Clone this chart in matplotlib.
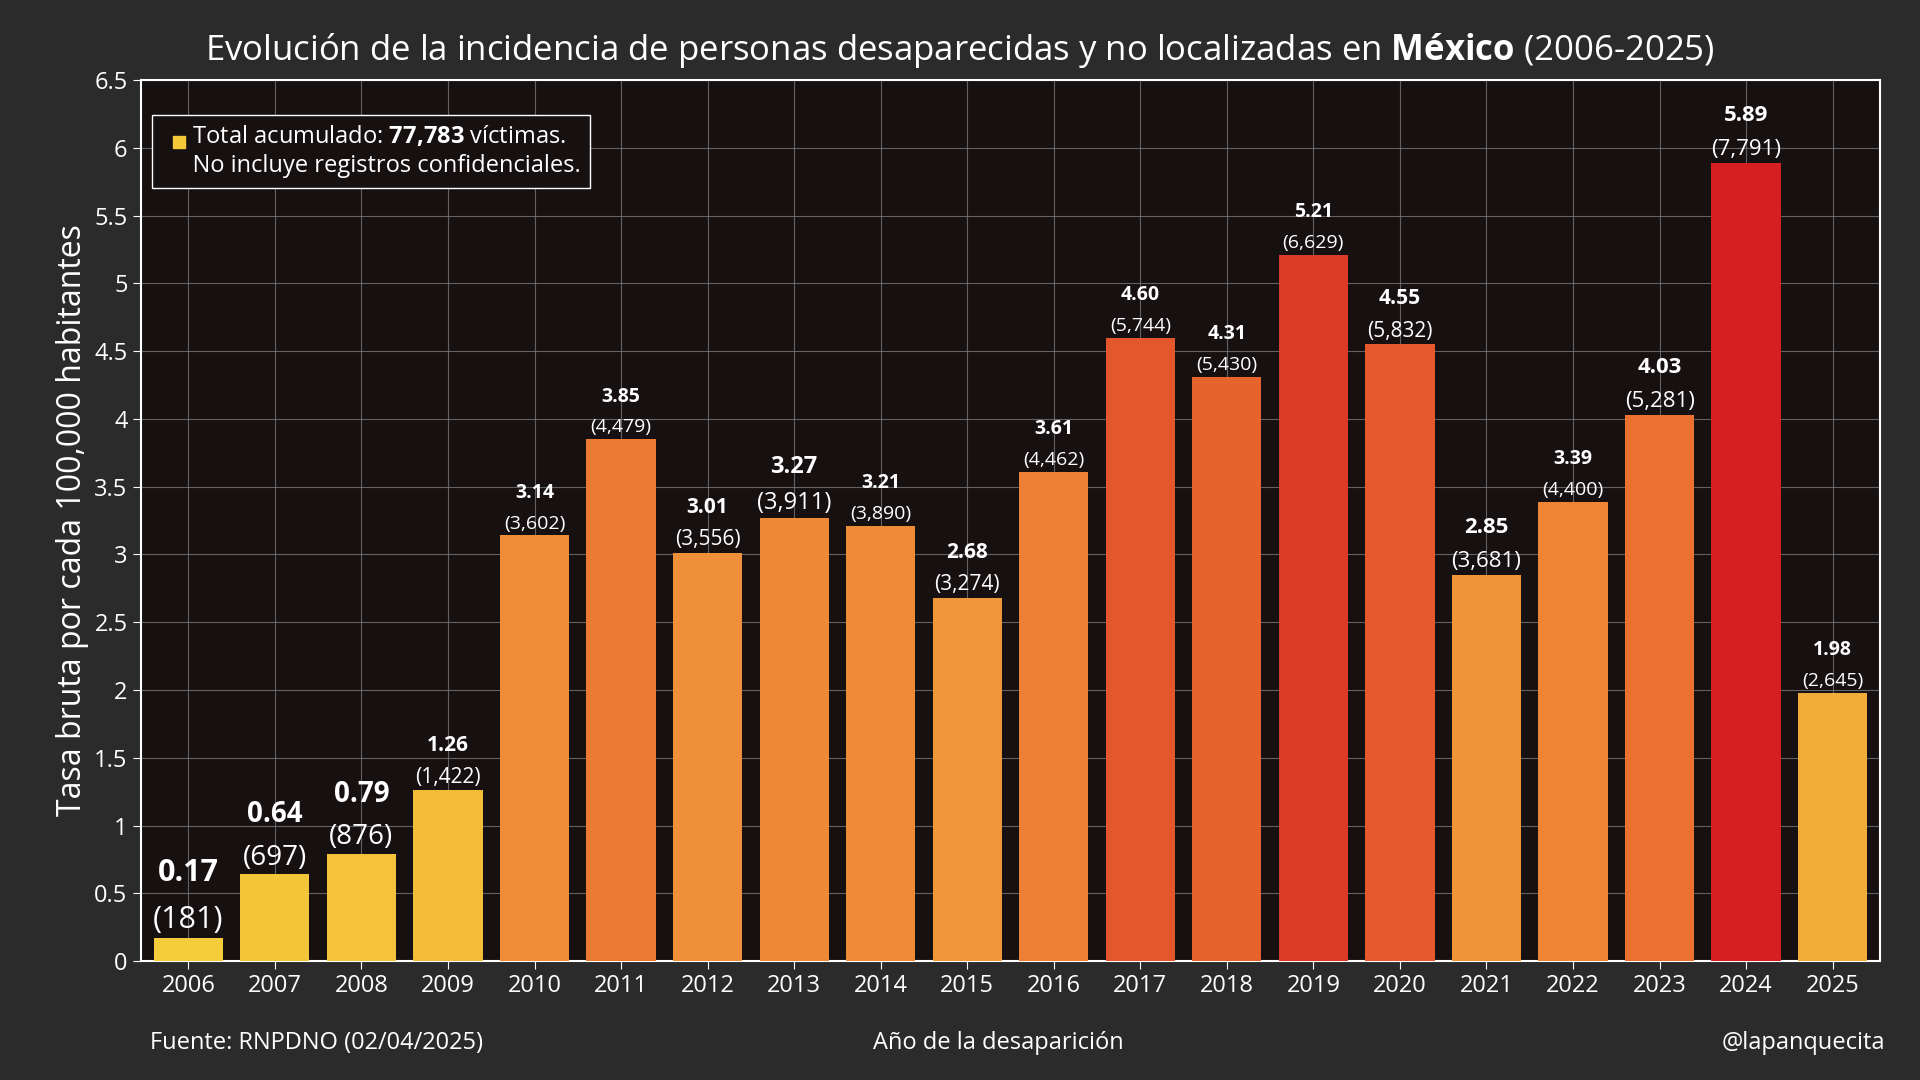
import numpy as np
import matplotlib.pyplot as plt
from matplotlib.colors import LinearSegmentedColormap, Normalize

plt.rcParams['font.family'] = ['Open Sans', 'DejaVu Sans']
plt.rcParams['mathtext.fontset'] = 'custom'
plt.rcParams['mathtext.rm'] = 'Open Sans'
plt.rcParams['mathtext.bf'] = 'Open Sans:bold'

years = [str(y) for y in range(2006, 2026)]
rates = [0.17, 0.64, 0.79, 1.26, 3.14, 3.85, 3.01, 3.27, 3.21, 2.68,
         3.61, 4.60, 4.31, 5.21, 4.55, 2.85, 3.39, 4.03, 5.89, 1.98]
counts = [181, 697, 876, 1422, 3602, 4479, 3556, 3911, 3890, 3274,
          4462, 5744, 5430, 6629, 5832, 3681, 4400, 5281, 7791, 2645]
label_sizes = [22, 20, 20, 15, 14, 14, 15, 17, 14, 15,
               14, 14, 14, 14, 15, 16, 14, 16, 16, 14]

fig = plt.figure(figsize=[19.2, 10.8], dpi=100)
fig.patch.set_facecolor('#2b2b2b')
ax = fig.add_axes([0.0733, 0.110, 0.906, 0.816])
ax.set_facecolor('#161011')

cmap = LinearSegmentedColormap.from_list(
    'yr', [(0, '#f5d03a'), (0.3, '#f2b237'), (0.5, '#f0913a'), (0.65, '#ec7a32'),
           (0.8, '#e3512b'), (1, '#d61f20')])
norm = Normalize(0, 5.9)
x = np.arange(len(years))
ax.bar(x, rates, width=0.8, color=cmap(norm(np.array(rates))), zorder=3)

for i in range(len(years)):
    s = label_sizes[i]
    ax.text(x[i], rates[i] + 0.02, '(' + format(counts[i], ',') + ')', ha='center', va='bottom',
            color='white', fontsize=s, zorder=4)
    ax.text(x[i], rates[i] + 0.02 + s * 0.0158, format(rates[i], '.2f'), ha='center', va='bottom',
            color='white', fontsize=s, fontweight='bold', zorder=4)

ax.set_xlim(-0.55, len(years) - 0.45)
ax.set_ylim(0, 6.5)
ax.set_yticks(np.arange(0, 6.51, 0.5))
ax.set_yticklabels(['0', '0.5', '1', '1.5', '2', '2.5', '3', '3.5', '4', '4.5', '5', '5.5', '6', '6.5'])
ax.set_xticks(x)
ax.set_xticklabels(years)
ax.tick_params(colors='white', labelsize=17, length=6)
ax.grid(color='#777777', linewidth=0.8, alpha=0.8, zorder=0)
for sp in ax.spines.values():
    sp.set_color('white')
    sp.set_linewidth(1.5)
ax.set_ylabel('Tasa bruta por cada 100,000 habitantes', color='white', fontsize=23)

fig.text(0.5, 0.953, r'Evolución de la incidencia de personas desaparecidas y no localizadas en $\bf{México}$ (2006-2025)',
         ha='center', va='center', color='white', fontsize=25)

ax.text(0.012, 0.95, '     Total acumulado: $\\bf{77{,}783}$ víctimas.\n     No incluye registros confidenciales.',
        transform=ax.transAxes, ha='left', va='top', color='white', fontsize=17, linespacing=1.3,
        bbox=dict(facecolor='#161011', edgecolor='white', boxstyle='square,pad=0.4'), zorder=6)
ax.plot([0.022], [0.93], 's', color='#f5c83a', markersize=8, transform=ax.transAxes, zorder=7)

fig.text(0.078, 0.034, 'Fuente: RNPDNO (02/04/2025)', color='white', fontsize=17, va='center')
fig.text(0.52, 0.034, 'Año de la desaparición', color='white', fontsize=17, va='center', ha='center')
fig.text(0.982, 0.034, '@lapanquecita', color='white', fontsize=17, va='center', ha='right')

plt.savefig('out.png', facecolor=fig.get_facecolor())
